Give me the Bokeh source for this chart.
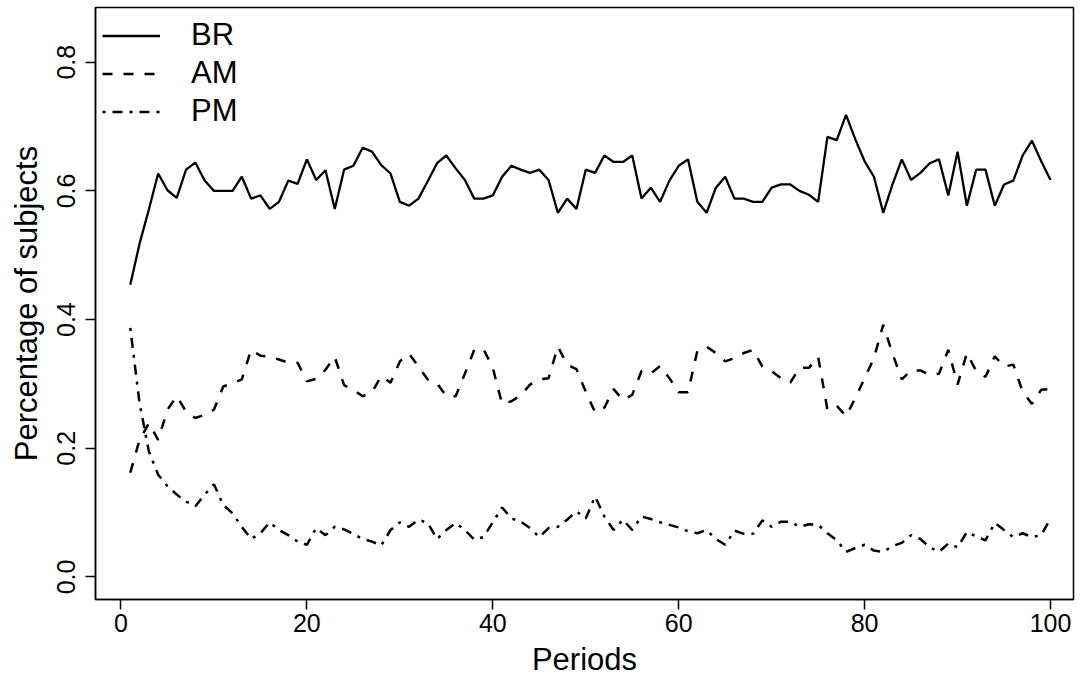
from bokeh.plotting import figure
from bokeh.models import Range1d, FixedTicker, NumeralTickFormatter, Legend, LegendItem
from bokeh.embed import file_html
from bokeh.resources import INLINE

periods = list(range(1, 101))

br = [0.454, 0.518, 0.571, 0.627, 0.601, 0.589, 0.633, 0.644, 0.616, 0.600,
      0.600, 0.600, 0.622, 0.588, 0.593, 0.572, 0.583, 0.616, 0.611, 0.649,
      0.617, 0.632, 0.572, 0.633, 0.639, 0.667, 0.661, 0.640, 0.627, 0.583,
      0.577, 0.588, 0.615, 0.643, 0.655, 0.635, 0.617, 0.588, 0.588, 0.593,
      0.622, 0.639, 0.633, 0.628, 0.633, 0.617, 0.566, 0.588, 0.572, 0.633,
      0.628, 0.655, 0.645, 0.645, 0.655, 0.588, 0.605, 0.583, 0.616, 0.639,
      0.649, 0.583, 0.566, 0.605, 0.622, 0.588, 0.588, 0.583, 0.583, 0.605,
      0.610, 0.610, 0.600, 0.594, 0.583, 0.684, 0.679, 0.718, 0.680, 0.646,
      0.622, 0.566, 0.610, 0.649, 0.617, 0.628, 0.643, 0.649, 0.593, 0.661,
      0.577, 0.633, 0.633, 0.577, 0.610, 0.616, 0.655, 0.678, 0.646, 0.617]

am = [0.162, 0.213, 0.239, 0.213, 0.260, 0.281, 0.257, 0.247, 0.252, 0.260,
      0.296, 0.301, 0.307, 0.353, 0.344, 0.342, 0.338, 0.333, 0.333, 0.304,
      0.308, 0.322, 0.342, 0.298, 0.291, 0.281, 0.287, 0.312, 0.302, 0.335,
      0.347, 0.327, 0.307, 0.301, 0.281, 0.281, 0.316, 0.353, 0.354, 0.325,
      0.269, 0.273, 0.282, 0.299, 0.307, 0.309, 0.358, 0.330, 0.323, 0.288,
      0.256, 0.263, 0.292, 0.275, 0.283, 0.320, 0.316, 0.328, 0.309, 0.287,
      0.287, 0.351, 0.358, 0.348, 0.335, 0.340, 0.348, 0.353, 0.327, 0.320,
      0.309, 0.302, 0.325, 0.325, 0.342, 0.260, 0.266, 0.250, 0.278, 0.309,
      0.340, 0.392, 0.347, 0.307, 0.321, 0.321, 0.314, 0.316, 0.353, 0.299,
      0.348, 0.320, 0.311, 0.343, 0.327, 0.330, 0.288, 0.269, 0.291, 0.292]

pm = [0.387, 0.270, 0.195, 0.159, 0.141, 0.128, 0.117, 0.110, 0.128, 0.144,
      0.112, 0.099, 0.078, 0.059, 0.068, 0.085, 0.073, 0.065, 0.055, 0.050,
      0.076, 0.065, 0.078, 0.074, 0.067, 0.059, 0.055, 0.049, 0.073, 0.085,
      0.078, 0.089, 0.084, 0.059, 0.073, 0.084, 0.073, 0.058, 0.062, 0.085,
      0.108, 0.091, 0.086, 0.076, 0.062, 0.076, 0.078, 0.089, 0.102, 0.091,
      0.125, 0.094, 0.073, 0.089, 0.073, 0.094, 0.090, 0.085, 0.081, 0.077,
      0.071, 0.068, 0.073, 0.059, 0.050, 0.072, 0.067, 0.067, 0.088, 0.078,
      0.086, 0.086, 0.078, 0.082, 0.081, 0.068, 0.057, 0.039, 0.045, 0.050,
      0.041, 0.039, 0.048, 0.053, 0.065, 0.059, 0.046, 0.039, 0.052, 0.046,
      0.070, 0.063, 0.057, 0.084, 0.073, 0.062, 0.068, 0.062, 0.065, 0.091]

series_names = ["BR", "AM", "PM"]
x_ticks = [0, 20, 40, 60, 80, 100]
y_ticks = [0.0, 0.2, 0.4, 0.6, 0.8]

FONT = "Liberation Sans"

p = figure(frame_width=978, frame_height=592,
           x_range=Range1d(-2.74, 102.47), y_range=Range1d(-0.035, 0.885),
           output_backend="svg", toolbar_location=None,
           min_border_left=95, min_border_right=4, min_border_top=7,
           min_border_bottom=68)

p.xgrid.visible = False
p.ygrid.visible = False
p.outline_line_color = "black"
p.outline_line_width = 1.5
p.background_fill_color = "white"
p.border_fill_color = "white"

# axes
p.xaxis.ticker = FixedTicker(ticks=x_ticks)
p.yaxis.ticker = FixedTicker(ticks=y_ticks)
p.yaxis.formatter = NumeralTickFormatter(format="0.0")
for ax in (p.xaxis[0], p.yaxis[0]):
    ax.axis_line_color = "black"
    ax.axis_line_width = 1.5
    ax.major_tick_line_color = "black"
    ax.major_tick_line_width = 1.5
    ax.major_tick_out = 10
    ax.major_tick_in = 0
    ax.minor_tick_line_color = None
    ax.major_label_text_font = FONT
    ax.major_label_text_font_size = "25px"
    ax.major_label_text_color = "black"
    ax.axis_label_text_font = FONT
    ax.axis_label_text_font_size = "31px"
    ax.axis_label_text_font_style = "normal"
    ax.axis_label_text_color = "black"

p.xaxis.axis_label = "Periods"
p.yaxis.axis_label = "Percentage of subjects"
p.xaxis.major_label_standoff = 4
p.xaxis.axis_label_standoff = 7
p.yaxis.major_label_orientation = "parallel"
p.yaxis.major_label_standoff = 10
p.yaxis.axis_label_standoff = 11

# data lines
r_br = p.line(periods, br, line_color="black", line_width=2.3)
r_am = p.line(periods, am, line_color="black", line_width=2.5, line_dash="10 11")
r_pm = p.line(periods, pm, line_color="black", line_width=2.5, line_dash="3 7 10 7")

legend = Legend(items=[LegendItem(label=series_names[0], renderers=[r_br]),
                       LegendItem(label=series_names[1], renderers=[r_am]),
                       LegendItem(label=series_names[2], renderers=[r_pm])],
                location=(7, 470), orientation="vertical")
legend.border_line_color = None
legend.background_fill_alpha = 0
legend.padding = 0
legend.margin = 0
legend.spacing = 2
legend.glyph_width = 58
legend.glyph_height = 31
legend.label_height = 31
legend.label_standoff = 31
legend.label_text_font = FONT
legend.label_text_font_size = "31px"
legend.label_text_color = "black"
p.add_layout(legend, "center")

open("out.html", "w").write(file_html(p, INLINE))
